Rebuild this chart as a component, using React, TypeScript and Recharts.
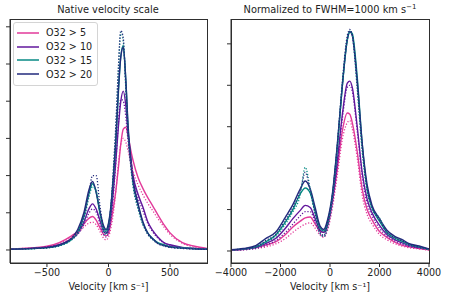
import React from "react";
import { LineChart, Line, XAxis, YAxis, Legend } from "recharts";

const FONT = "'DejaVu Sans', sans-serif";

const seriesNames = ["O32 > 5", "O32 > 10", "O32 > 15", "O32 > 20"];
const seriesColors = ["#e23a9a", "#62179c", "#078a84", "#222a7c"];

// ---------- Native velocity scale ----------
const nativeVelocity = [-800, -700, -600, -500, -400, -300, -250, -200, -160, -130, -100, -70, -40, -20, 0, 20, 40, 60, 80, 100, 120, 140, 160, 180, 200, 240, 280, 320, 360, 400, 450, 500, 600, 700, 800];
const nativeSolid5 = [0.03, 0.04, 0.06, 0.1, 0.2, 0.38, 0.5, 0.7, 0.85, 0.9, 0.8, 0.6, 0.42, 0.38, 0.45, 0.75, 1.15, 1.6, 2.2, 2.85, 3.25, 3.3, 3.05, 2.7, 2.4, 1.95, 1.65, 1.4, 1.18, 0.95, 0.68, 0.46, 0.2, 0.1, 0.04];
const nativeSolid10 = [0.02, 0.03, 0.05, 0.08, 0.14, 0.3, 0.45, 0.75, 1.1, 1.24, 1.1, 0.8, 0.5, 0.45, 0.55, 0.95, 1.6, 2.4, 3.3, 4.0, 4.27, 3.9, 3.1, 2.5, 2.0, 1.5, 1.15, 0.75, 0.52, 0.35, 0.2, 0.14, 0.07, 0.04, 0.02];
const nativeSolid15 = [0.02, 0.03, 0.04, 0.06, 0.12, 0.28, 0.48, 0.92, 1.5, 1.78, 1.55, 1.0, 0.6, 0.5, 0.68, 1.15, 1.95, 2.9, 4.2, 5.2, 5.5, 4.6, 3.2, 2.4, 1.8, 1.2, 0.72, 0.45, 0.3, 0.2, 0.14, 0.09, 0.06, 0.04, 0.02];
const nativeSolid20 = [0.02, 0.03, 0.05, 0.07, 0.14, 0.32, 0.55, 1.0, 1.6, 1.84, 1.55, 1.05, 0.65, 0.55, 0.72, 1.2, 2.0, 3.0, 4.3, 5.2, 5.45, 4.6, 3.3, 2.5, 1.9, 1.25, 0.75, 0.45, 0.3, 0.18, 0.12, 0.08, 0.05, 0.03, 0.02];
const nativeDotted5 = [0.03, 0.04, 0.05, 0.09, 0.18, 0.34, 0.45, 0.62, 0.72, 0.75, 0.68, 0.5, 0.32, 0.27, 0.35, 0.6, 1.0, 1.6, 2.3, 2.85, 3.0, 2.9, 2.65, 2.35, 2.1, 1.75, 1.48, 1.25, 1.05, 0.85, 0.62, 0.42, 0.18, 0.08, 0.04];
const nativeDotted10 = [0.02, 0.03, 0.05, 0.07, 0.13, 0.28, 0.42, 0.68, 0.98, 1.1, 1.02, 0.72, 0.42, 0.35, 0.45, 0.85, 1.5, 2.4, 3.4, 4.05, 4.0, 3.6, 2.9, 2.35, 1.9, 1.4, 1.05, 0.7, 0.48, 0.32, 0.19, 0.12, 0.06, 0.04, 0.02];
const nativeDotted15 = [0.02, 0.03, 0.04, 0.06, 0.11, 0.27, 0.45, 0.8, 1.4, 1.7, 1.6, 1.0, 0.5, 0.42, 0.6, 1.15, 2.1, 3.3, 4.8, 5.85, 5.6, 4.4, 3.1, 2.3, 1.7, 1.1, 0.68, 0.42, 0.28, 0.18, 0.12, 0.08, 0.05, 0.03, 0.02];
const nativeDotted20 = [0.02, 0.03, 0.04, 0.06, 0.12, 0.3, 0.48, 0.85, 1.5, 2.0, 2.0, 1.2, 0.55, 0.45, 0.62, 1.2, 2.2, 3.4, 4.9, 5.9, 5.7, 4.4, 3.1, 2.3, 1.75, 1.15, 0.7, 0.42, 0.28, 0.17, 0.11, 0.07, 0.04, 0.03, 0.02];
const nativeTicks = [-500, 0, 500];

// ---------- Normalized to FWHM = 1000 km/s ----------
const normVelocity = [-4000, -3500, -3000, -2600, -2200, -1800, -1500, -1200, -1000, -800, -600, -400, -250, -100, 100, 300, 500, 700, 800, 900, 1100, 1300, 1500, 1700, 2000, 2300, 2600, 2900, 3200, 3600, 4000];
const normSolid5 = [0.02, 0.04, 0.08, 0.14, 0.22, 0.4, 0.58, 0.72, 0.8, 0.82, 0.65, 0.48, 0.45, 0.6, 1.2, 2.0, 2.9, 3.33, 3.3, 3.1, 2.4, 1.5, 1.0, 0.75, 0.47, 0.33, 0.22, 0.14, 0.1, 0.06, 0.03];
const normSolid10 = [0.02, 0.04, 0.08, 0.18, 0.3, 0.55, 0.78, 0.98, 1.1, 1.05, 0.78, 0.5, 0.45, 0.65, 1.25, 2.2, 3.3, 4.05, 4.1, 3.95, 3.0, 1.9, 1.25, 0.92, 0.62, 0.4, 0.28, 0.2, 0.13, 0.08, 0.04];
const normSolid15 = [0.03, 0.05, 0.1, 0.22, 0.38, 0.7, 1.0, 1.38, 1.52, 1.4, 0.95, 0.55, 0.48, 0.7, 1.35, 2.55, 4.0, 5.1, 5.3, 5.25, 4.2, 2.6, 1.5, 1.05, 0.72, 0.45, 0.32, 0.24, 0.16, 0.1, 0.04];
const normSolid20 = [0.03, 0.06, 0.13, 0.3, 0.45, 0.82, 1.12, 1.5, 1.69, 1.5, 1.05, 0.6, 0.52, 0.75, 1.4, 2.6, 4.0, 5.1, 5.3, 5.2, 4.1, 2.6, 1.6, 1.1, 0.78, 0.5, 0.36, 0.28, 0.18, 0.12, 0.05];
const normDotted5 = [0.01, 0.03, 0.06, 0.1, 0.17, 0.3, 0.45, 0.58, 0.65, 0.68, 0.55, 0.38, 0.33, 0.5, 1.05, 1.85, 2.7, 3.1, 3.15, 2.95, 2.25, 1.35, 0.88, 0.65, 0.4, 0.27, 0.18, 0.12, 0.08, 0.05, 0.02];
const normDotted10 = [0.02, 0.03, 0.06, 0.14, 0.25, 0.45, 0.65, 0.85, 0.95, 0.95, 0.7, 0.42, 0.35, 0.55, 1.15, 2.1, 3.2, 3.95, 4.0, 3.85, 2.9, 1.8, 1.15, 0.85, 0.55, 0.36, 0.25, 0.17, 0.11, 0.07, 0.03];
const normDotted15 = [0.02, 0.04, 0.08, 0.2, 0.35, 0.65, 0.95, 1.35, 2.02, 1.5, 0.9, 0.42, 0.35, 0.6, 1.3, 2.5, 4.0, 5.1, 5.3, 5.2, 3.9, 2.4, 1.45, 1.0, 0.8, 0.42, 0.3, 0.22, 0.14, 0.09, 0.03];
const normDotted20 = [0.03, 0.05, 0.1, 0.25, 0.4, 0.75, 1.05, 1.45, 1.9, 1.45, 0.9, 0.45, 0.38, 0.65, 1.35, 2.6, 4.1, 5.2, 5.35, 5.2, 4.0, 2.5, 1.5, 1.05, 0.75, 0.45, 0.33, 0.25, 0.16, 0.1, 0.04];
const normTicks = [-4000, -2000, 0, 2000, 4000];

const nativeYTicks = [0, 1, 2, 3, 4, 5, 6];
const normYTicks = [0, 1, 2, 3, 4, 5];

function buildRows(v: number[], solids: number[][], dotteds: number[][]) {
  return v.map((x, i) => {
    const row: Record<string, number> = { v: x };
    solids.forEach((s, k) => (row["s" + k] = s[i]));
    dotteds.forEach((d, k) => (row["d" + k] = d[i]));
    return row;
  });
}

const nativeRows = buildRows(
  nativeVelocity,
  [nativeSolid5, nativeSolid10, nativeSolid15, nativeSolid20],
  [nativeDotted5, nativeDotted10, nativeDotted15, nativeDotted20]
);
const normRows = buildRows(
  normVelocity,
  [normSolid5, normSolid10, normSolid15, normSolid20],
  [normDotted5, normDotted10, normDotted15, normDotted20]
);

const fmt = (t: number) => String(t).replace("-", "\u2212");
const blank = () => "";
const AXIS = "#2e2e2e";
const TICK_SIZE = 4;
const TICK_MARGIN = 2;
const Y_AXIS_W = 6;

function XTick(props: any) {
  const { x, y, payload } = props;
  return (
    <text x={x} y={y} dy="0.72em" textAnchor="middle" fontSize={9.6} fontFamily={FONT} fill="#222">
      {fmt(payload.value)}
    </text>
  );
}

function LegendBox() {
  return (
    <div
      style={{
        border: "1px solid #d4d4d4",
        borderRadius: 3,
        background: "rgba(255,255,255,0.85)",
        padding: "3px 5px 4px 3px",
        fontFamily: FONT,
        fontSize: 9.6,
        color: "#222",
        whiteSpace: "nowrap",
        display: "inline-block",
      }}
    >
      {seriesNames.map((name, k) => (
        <div key={name} style={{ display: "flex", alignItems: "center", height: 13.8 }}>
          <svg width={22} height={4} style={{ marginRight: 7, flex: "none" }}>
            <line x1={0} y1={2} x2={22} y2={2} stroke={seriesColors[k]} strokeWidth={1.5} />
          </svg>
          <span>{name}</span>
        </div>
      ))}
    </div>
  );
}

type PanelProps = {
  rows: Record<string, number>[];
  xDomain: [number, number];
  xTicks: number[];
  yDomain: [number, number];
  yTicks: number[];
  width: number;
  margin: { top: number; right: number; bottom: number; left: number };
  legend?: boolean;
};

function Panel({ rows, xDomain, xTicks, yDomain, yTicks, width, margin, legend }: PanelProps) {
  const lines: React.ReactNode[] = [];
  seriesNames.forEach((name, k) => {
    lines.push(
      <Line
        key={"s" + k}
        dataKey={"s" + k}
        name={name}
        type="monotone"
        stroke={seriesColors[k]}
        strokeWidth={1.4}
        dot={false}
        isAnimationActive={false}
      />
    );
  });
  seriesNames.forEach((name, k) => {
    lines.push(
      <Line
        key={"d" + k}
        dataKey={"d" + k}
        name={name + " (dotted)"}
        type="monotone"
        stroke={seriesColors[k]}
        strokeWidth={1.3}
        strokeDasharray="1.2 1.8"
        dot={false}
        legendType="none"
        isAnimationActive={false}
      />
    );
  });
  return (
    <LineChart width={width} height={299} data={rows} margin={margin}>
      <XAxis
        dataKey="v"
        type="number"
        domain={xDomain}
        ticks={xTicks}
        interval={0}
        allowDataOverflow
        height={36}
        stroke={AXIS}
        axisLine={{ stroke: AXIS, strokeWidth: 1 }}
        tickLine={{ stroke: AXIS, strokeWidth: 1 }}
        tickSize={TICK_SIZE}
        tickMargin={TICK_MARGIN}
        tick={<XTick />}
        label={{ value: "Velocity [km s\u207B\u00B9]", position: "insideBottom", offset: 9, style: { fontSize: 9.6, fontFamily: FONT, fill: "#222" } }}
      />
      <YAxis
        type="number"
        domain={yDomain}
        ticks={yTicks}
        interval={0}
        allowDataOverflow
        width={Y_AXIS_W}
        stroke={AXIS}
        axisLine={{ stroke: AXIS, strokeWidth: 1 }}
        tickLine={{ stroke: AXIS, strokeWidth: 1 }}
        tickSize={TICK_SIZE}
        tickMargin={TICK_MARGIN}
        tickFormatter={blank}
      />
      {lines}
      {legend && (
        <Legend
          layout="horizontal"
          verticalAlign="middle"
          align="center"
          content={<LegendBox />}
          wrapperStyle={{ left: margin.left + Y_AXIS_W + 3, top: 22, width: "auto", height: "auto" }}
        />
      )}
    </LineChart>
  );
}

const titleStyle: React.CSSProperties = {
  position: "absolute",
  top: 4,
  fontFamily: FONT,
  fontSize: 9.8,
  color: "#222",
  textAlign: "center",
  whiteSpace: "nowrap",
};

const frameStyle: React.CSSProperties = {
  position: "absolute",
  top: 19,
  height: 245,
  boxSizing: "border-box",
  border: "1px solid " + AXIS,
  pointerEvents: "none",
};

export default function App() {
  return (
    <div style={{ position: "absolute", left: 0, top: 0, width: 449, height: 299, background: "#fff" }}>
      <div style={{ position: "absolute", left: 0, top: 0 }}>
        <Panel
          rows={nativeRows}
          xDomain={[-800, 800]}
          xTicks={nativeTicks}
          yDomain={[-0.35, 6.21]}
          yTicks={nativeYTicks}
          width={225}
          margin={{ top: 19, right: 18, bottom: 0, left: 10 - Y_AXIS_W }}
          legend
        />
      </div>
      <div style={{ position: "absolute", left: 205, top: 0 }}>
        <Panel
          rows={normRows}
          xDomain={[-4000, 4000]}
          xTicks={normTicks}
          yDomain={[-0.29, 5.6]}
          yTicks={normYTicks}
          width={244}
          margin={{ top: 19, right: 20, bottom: 0, left: 26 - Y_AXIS_W }}
        />
      </div>
      <div style={{ ...frameStyle, left: 10, width: 198 }} />
      <div style={{ ...frameStyle, left: 231, width: 199 }} />
      <div style={{ ...titleStyle, left: 8, width: 200 }}>Native velocity scale</div>
      <div style={{ ...titleStyle, left: 231, width: 198 }}>
        Normalized to FWHM=1000 km s<sup style={{ fontSize: 7, verticalAlign: "4px", lineHeight: 0 }}>{"\u22121"}</sup>
      </div>
    </div>
  );
}
